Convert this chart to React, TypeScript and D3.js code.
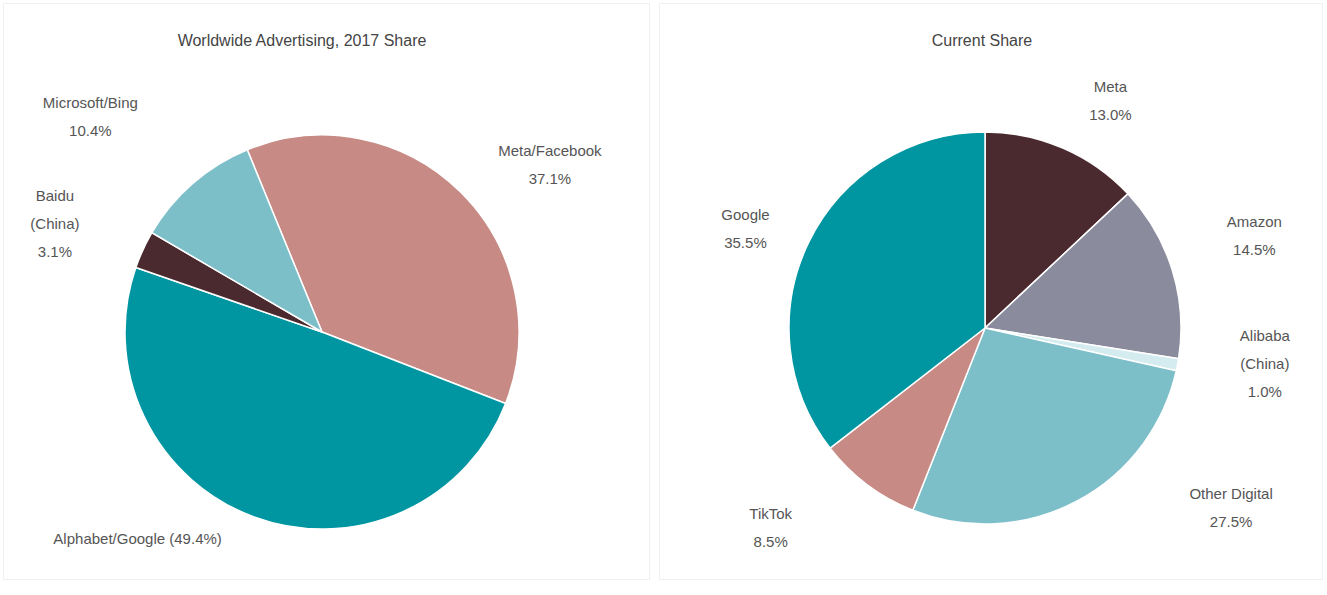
import React from "react";
import * as d3 from "d3";

// ---- Data ----
const leftTitle = "Worldwide Advertising, 2017 Share";
const leftCategories = ["Meta/Facebook", "Alphabet/Google", "Baidu (China)", "Microsoft/Bing"];
const leftLabels = [["Meta/Facebook", "37.1%"], ["Alphabet/Google (49.4%)"], ["Baidu", "(China)", "3.1%"], ["Microsoft/Bing", "10.4%"]];
const leftValues = [37.1, 49.4, 3.1, 10.4];
const leftColors = ["#c78a84", "#0096a1", "#4b2a2f", "#7dbfc9"];

const rightTitle = "Current Share";
const rightCategories = ["Meta", "Amazon", "Alibaba", "Other", "TikTok", "Google"];
const rightLabels = [["Meta", "13.0%"], ["Amazon", "14.5%"], ["Alibaba", "(China)", "1.0%"], ["Other Digital", "27.5%"], ["TikTok", "8.5%"], ["Google", "35.5%"]];
const rightValues = [13.0, 14.5, 1.0, 27.5, 8.5, 35.5];
const rightColors = ["#4b2a2f", "#8a8b9d", "#d4ebef", "#7dbfc9", "#c78a84", "#0096a1"];

// label placement (polar: angle in degrees clockwise from 12 o'clock, radius factor)
const leftLabelPolar = [[54, 1.43], [221.6, 1.41], [291.8, 1.46], [312.7, 1.6]];
const rightLabelPolar = [[29, 1.32], [71.4, 1.45], [97.5, 1.44], [126.4, 1.56], [226.8, 1.5], [292.2, 1.32]];

const W = 1327;
const H = 595;

type PieProps = {
  cx: number; cy: number; r: number;
  values: number[]; colors: string[]; labels: string[][];
  polar: number[][]; startDeg: number; title: string; titleX: number;
};

function Pie({ cx, cy, r, values, colors, labels, polar, startDeg, title, titleX }: PieProps) {
  const start = (startDeg * Math.PI) / 180;
  const pie = d3.pie<number>().sort(null).value((d) => d).startAngle(start).endAngle(start + 2 * Math.PI);
  const arcs = pie(values);
  const arc = d3.arc<d3.PieArcDatum<number>>().innerRadius(0).outerRadius(r);
  const lineH = 28;
  return (
    <g>
      <text x={titleX} y={42} textAnchor="middle" dominantBaseline="middle" fontSize={16} fill="#444">{title}</text>
      <g transform={`translate(${cx},${cy})`}>
        {arcs.map((a, i) => (
          <path key={i} d={arc(a) || ""} fill={colors[i]} stroke="#fff" strokeWidth={1.5} />
        ))}
        {arcs.map((a, i) => {
          const ang = (polar[i][0] * Math.PI) / 180;
          const R = polar[i][1] * r;
          const x = R * Math.sin(ang);
          const y = -R * Math.cos(ang);
          const lines = labels[i];
          const y0 = y - ((lines.length - 1) * lineH) / 2;
          return (
            <text key={"l" + i} x={x} y={y0} textAnchor="middle" dominantBaseline="middle" fontSize={15} fill="#555">
              {lines.map((t, j) => (
                <tspan key={j} x={x} y={y0 + j * lineH}>{t}</tspan>
              ))}
            </text>
          );
        })}
      </g>
    </g>
  );
}

export default function App() {
  return (
    <svg width={W} height={H} style={{ position: "absolute", left: 0, top: 0, fontFamily: "Liberation Sans, Arial, sans-serif", background: "#fff" }}>
      <rect x={0} y={0} width={W} height={H} fill="#fff" />
      <rect x={3.5} y={3.5} width={646} height={576} fill="#fff" stroke="#f0f0f0" />
      <rect x={659.5} y={3.5} width={663} height={576} fill="#fff" stroke="#f0f0f0" />
      <Pie cx={322} cy={332} r={197} values={leftValues} colors={leftColors} labels={leftLabels}
        polar={leftLabelPolar} startDeg={-22.3} title={leftTitle} titleX={302} />
      <Pie cx={985} cy={328} r={196} values={rightValues} colors={rightColors} labels={rightLabels}
        polar={rightLabelPolar} startDeg={0} title={rightTitle} titleX={982} />
    </svg>
  );
}
